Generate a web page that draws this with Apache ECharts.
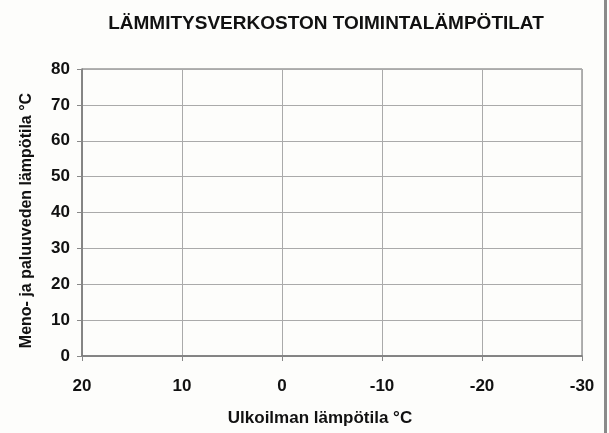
<!DOCTYPE html>
<html>
<head>
<meta charset="utf-8">
<script src="https://cdn.jsdelivr.net/npm/echarts@6/dist/echarts.min.js"></script>
<style>
html,body{margin:0;padding:0;background:#fdfdfb;}
#c{width:609px;height:433px;}
</style>
</head>
<body>
<div id="c"></div>
<script>
// Data (the reference chart is an empty grid)
const title = "LÄMMITYSVERKOSTON TOIMINTALÄMPÖTILAT";
const xName = "Ulkoilman lämpötila °C";
const yName = "Meno- ja paluuveden lämpötila °C";
const xMin = -30, xMax = 20, xStep = 10;
const yMin = 0, yMax = 80, yStep = 10;
const menoData = [];   // no plotted values in reference
const paluuData = [];

const chart = echarts.init(document.getElementById('c'), null, {renderer: 'canvas'});
const FF = 'Liberation Sans, Arial, sans-serif';
const tickFont = {fontFamily: FF, fontWeight: 'bold', fontSize: 17, color: '#111'};
chart.setOption({
  backgroundColor: '#fdfdfb',
  animation: false,
  title: {
    text: title, left: 321, top: 9, textAlign: 'center',
    textStyle: {fontFamily: FF, fontWeight: 'bold', fontSize: 19, color: '#111'}
  },
  grid: {left: 82, right: 27, top: 69, bottom: 77, show: true, borderColor: '#666', borderWidth: 1, backgroundColor: 'transparent'},
  xAxis: {
    type: 'value', inverse: true, min: xMin, max: xMax, interval: xStep,
    name: xName, nameLocation: 'middle', nameGap: 54,
    nameTextStyle: {fontFamily: FF, fontWeight: 'bold', fontSize: 17, color: '#111', padding: [0, 24, 0, 0]},
    axisLine: {show: true, onZero: false, lineStyle: {color: '#777', width: 1.5}},
    axisTick: {show: true, length: 5, lineStyle: {color: '#888'}},
    axisLabel: Object.assign({margin: 22}, tickFont),
    splitLine: {show: true, lineStyle: {color: '#aaa', width: 1}}
  },
  yAxis: {
    type: 'value', min: yMin, max: yMax, interval: yStep,
    name: yName, nameLocation: 'middle', nameGap: 47,
    nameTextStyle: {fontFamily: FF, fontWeight: 'bold', fontSize: 16, color: '#111', padding: [0, 16, 0, 0]},
    axisLine: {show: true, onZero: false, lineStyle: {color: '#777', width: 1.5}},
    axisTick: {show: true, length: 5, lineStyle: {color: '#888'}},
    axisLabel: Object.assign({margin: 12}, tickFont),
    splitLine: {show: true, lineStyle: {color: '#aaa', width: 1}}
  },
  graphic: [{
    type: 'rect', shape: {x: 604, y: 0, width: 3, height: 433},
    style: {fill: '#8a8a8a'}, silent: true
  }],
  series: [
    {type: 'line', name: 'Meno', data: menoData},
    {type: 'line', name: 'Paluu', data: paluuData}
  ]
});
</script>
</body>
</html>
